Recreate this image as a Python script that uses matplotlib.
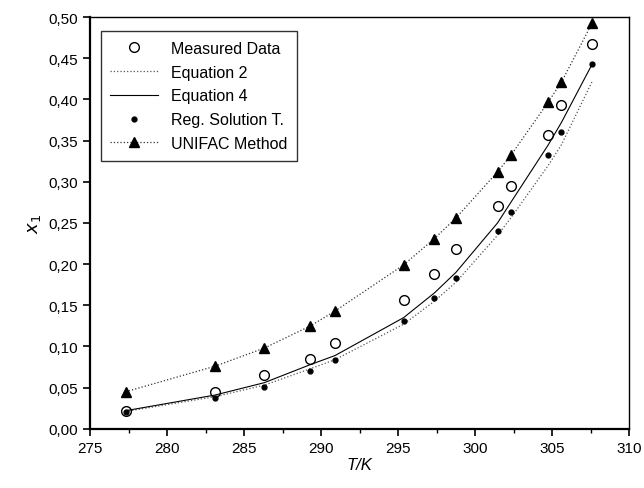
import matplotlib.pyplot as plt
from matplotlib.ticker import MultipleLocator, FuncFormatter

plt.rcParams['font.family'] = ['Liberation Sans', 'DejaVu Sans']

# temperatures (K)
T = [277.3, 283.1, 286.3, 289.3, 290.9, 295.35, 297.35, 298.75,
     301.45, 302.35, 304.75, 305.6, 307.6]

measured = [0.022, 0.045, 0.065, 0.085, 0.104, 0.157, 0.188, 0.218,
            0.271, 0.295, 0.357, 0.393, 0.467]
eq2 = [0.021, 0.039, 0.053, 0.073, 0.084, 0.127, 0.155, 0.178,
       0.235, 0.257, 0.320, 0.345, 0.422]
eq4 = [0.022, 0.041, 0.056, 0.078, 0.089, 0.135, 0.165, 0.190,
       0.250, 0.276, 0.345, 0.372, 0.443]
reg_sol = [0.021, 0.037, 0.051, 0.070, 0.083, 0.131, 0.159, 0.183,
           0.240, 0.263, 0.333, 0.361, 0.443]
unifac = [0.045, 0.076, 0.098, 0.125, 0.143, 0.199, 0.231, 0.256,
          0.312, 0.333, 0.397, 0.421, 0.493]

fig = plt.figure(figsize=(6.44, 4.89), dpi=100)
ax = fig.add_axes([0.14, 0.121, 0.837, 0.842])

ax.plot(T, measured, 'o', mfc='white', mec='black', ms=7, mew=1.0,
        label='Measured Data')
ax.plot(T, eq2, ':', color='#555555', lw=0.9, label='Equation 2')
ax.plot(T, eq4, '-', color='black', lw=0.8, label='Equation 4')
ax.plot(T, reg_sol, 'o', color='black', ms=3.5, label='Reg. Solution T.')
ax.plot(T, unifac, ':', color='#333333', lw=0.9, marker='^', ms=6.5,
        mfc='black', mec='black', label='UNIFAC Method')

ax.set_xlim(275, 310)
ax.set_ylim(0, 0.5)
ax.xaxis.set_major_locator(MultipleLocator(5))
ax.xaxis.set_minor_locator(MultipleLocator(2.5))
ax.yaxis.set_major_locator(MultipleLocator(0.05))
ax.yaxis.set_major_formatter(FuncFormatter(lambda v, p: f'{v:.2f}'.replace('.', ',')))
ax.tick_params(which='both', direction='out', top=False, right=False)
ax.tick_params(which='major', length=5, width=1.2, labelsize=11)
ax.tick_params(which='minor', length=3, width=1.0)
for s in ax.spines.values():
    s.set_linewidth(1.0)
ax.spines['left'].set_linewidth(1.6)
ax.spines['bottom'].set_linewidth(1.6)

ax.set_xlabel('T/K', fontsize=12, style='italic', labelpad=2)
ax.set_ylabel('$x_1$', fontsize=13, labelpad=4)

leg = ax.legend(loc='upper left', fontsize=11.5, frameon=True, fancybox=False,
                edgecolor='black', handlelength=3.0, borderpad=0.6,
                labelspacing=0.55, bbox_to_anchor=(0.005, 0.985))
leg.get_frame().set_linewidth(1.0)

fig.savefig('out.png', dpi=100)
